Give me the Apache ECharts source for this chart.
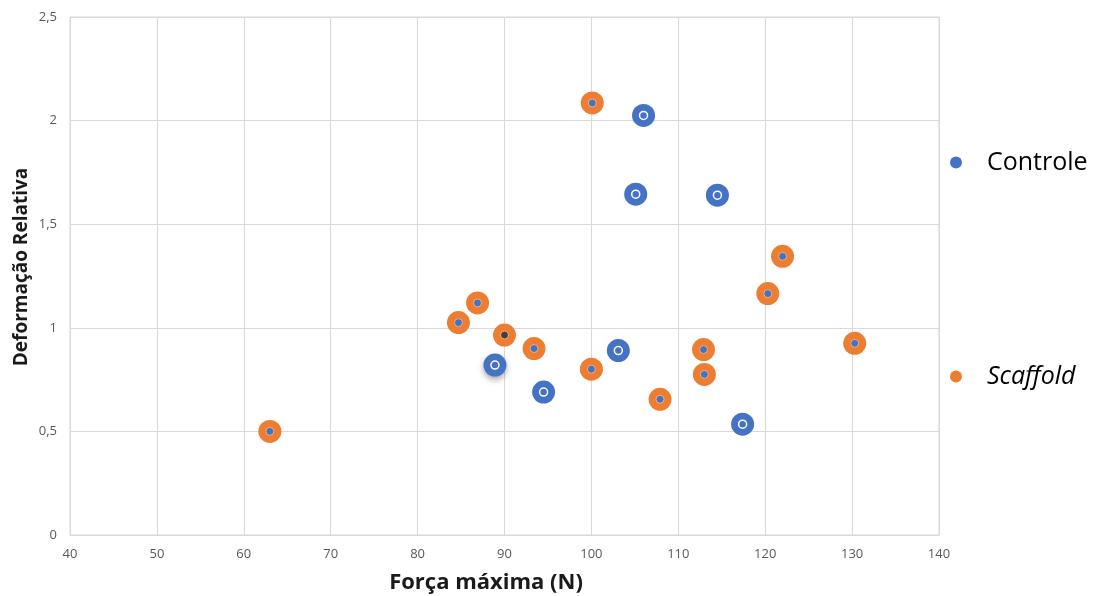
<!DOCTYPE html>
<html>
<head>
<meta charset="utf-8">
<script src="https://cdn.jsdelivr.net/npm/echarts@6/dist/echarts.min.js"></script>
<style>
  html, body { margin: 0; padding: 0; background: #fff; }
  #chart { width: 1095px; height: 596px; }
</style>
</head>
<body>
<div id="chart"></div>
<script>
// Força máxima (N) and Deformação Relativa for each group
const controleForca = [88.9, 94.5, 103.1, 105.1, 106.0, 114.5, 117.4];
const controleDeform = [0.82, 0.69, 0.89, 1.645, 2.025, 1.64, 0.535];

const scaffoldForca = [63.0, 84.7, 86.9, 90.0, 93.4, 100.1, 100.0, 107.9, 112.9, 113.0, 120.3, 122.0, 130.3];
const scaffoldDeform = [0.50, 1.025, 1.12, 0.965, 0.90, 2.085, 0.80, 0.655, 0.895, 0.775, 1.165, 1.345, 0.925];

const seriesNames = ['Controle', 'Scaffold'];
const axisTitles = { x: 'Força máxima (N)', y: 'Deformação Relativa' };
const xTicks = { min: 40, max: 140, interval: 10 };
const yTicks = { min: 0, max: 2.5, interval: 0.5 };

const BLUE = '#4472C4';
const ORANGE = '#ED7D31';
const FONT = '"Open Sans", "Noto Sans", sans-serif';

const pairs = (xs, ys) => xs.map((x, i) => [x, ys[i]]);

const controleData = pairs(controleForca, controleDeform).map((p, i) => (
  i === 0
    ? { value: p, itemStyle: { shadowBlur: 6, shadowOffsetY: 3, shadowColor: 'rgba(0,0,0,0.35)' } }
    : { value: p }
));

// small centre dots drawn on top of the scaffold markers
const scaffoldDots = pairs(scaffoldForca, scaffoldDeform).map((p, i) => (
  i === 3 ? { value: p, itemStyle: { color: '#404040' } } : { value: p }
));

const legendText = {
  fontFamily: FONT,
  fontSize: 25,
  color: '#000',
  padding: [0, 0, 0, 20],
  rich: { i: { fontStyle: 'italic', fontSize: 25, fontFamily: FONT, color: '#000' } }
};
const legendBase = {
  orient: 'vertical',
  left: 945,
  icon: 'circle',
  itemWidth: 12,
  itemHeight: 12,
  textStyle: legendText,
  formatter: name => name === 'Scaffold' ? '{i|' + name + '}' : name
};

const chart = echarts.init(document.getElementById('chart'));
chart.setOption({
  animation: false,
  backgroundColor: '#fff',
  textStyle: { fontFamily: FONT },
  grid: { left: 70, right: 156, top: 17, bottom: 61, show: true, borderColor: '#d9d9d9', borderWidth: 1 },
  legend: [
    Object.assign({ data: [seriesNames[0]], top: 145 }, legendBase),
    Object.assign({ data: [seriesNames[1]], top: 359 }, legendBase)
  ],
  graphic: [
    {
      type: 'text', x: 486, y: 583,
      style: { text: axisTitles.x, fontFamily: FONT, fontSize: 22, fontWeight: 'bold', fill: '#1a1a1a', align: 'center', verticalAlign: 'middle' }
    },
    {
      type: 'text', x: 22, y: 267, rotation: Math.PI / 2,
      style: { text: axisTitles.y, fontFamily: FONT, fontSize: 19, fontWeight: 'bold', fill: '#1a1a1a', align: 'center', verticalAlign: 'middle' }
    }
  ],
  xAxis: {
    type: 'value',
    min: xTicks.min, max: xTicks.max, interval: xTicks.interval,
    axisLine: { show: true, lineStyle: { color: '#d9d9d9' } },
    axisTick: { show: false },
    axisLabel: { fontFamily: FONT, fontSize: 13, color: '#595959', margin: 13 },
    splitLine: { show: true, lineStyle: { color: '#d9d9d9' } }
  },
  yAxis: {
    type: 'value',
    min: yTicks.min, max: yTicks.max, interval: yTicks.interval,
    axisLine: { show: true, lineStyle: { color: '#d9d9d9' } },
    axisTick: { show: false },
    axisLabel: {
      fontFamily: FONT, fontSize: 13, color: '#595959', margin: 13,
      formatter: v => String(v).replace('.', ',')
    },
    splitLine: { show: true, lineStyle: { color: '#d9d9d9' } }
  },
  series: [
    {
      name: 'Controle',
      type: 'scatter',
      data: controleData,
      symbol: 'circle',
      symbolSize: 23,
      itemStyle: { color: BLUE, opacity: 1 },
      z: 3
    },
    {
      name: 'Controle',
      type: 'scatter',
      data: pairs(controleForca, controleDeform),
      symbol: 'circle',
      symbolSize: 8,
      itemStyle: { color: BLUE, borderColor: '#fff', borderWidth: 1.5, opacity: 1 },
      silent: true,
      z: 4
    },
    {
      name: 'Scaffold',
      type: 'scatter',
      data: pairs(scaffoldForca, scaffoldDeform),
      symbol: 'circle',
      symbolSize: 23,
      itemStyle: { color: ORANGE, opacity: 1 },
      z: 3
    },
    {
      name: 'Scaffold',
      type: 'scatter',
      data: scaffoldDots,
      symbol: 'circle',
      symbolSize: 8,
      itemStyle: { color: BLUE, borderColor: '#f4b183', borderWidth: 1, opacity: 1 },
      silent: true,
      z: 4
    }
  ]
});
</script>
</body>
</html>
